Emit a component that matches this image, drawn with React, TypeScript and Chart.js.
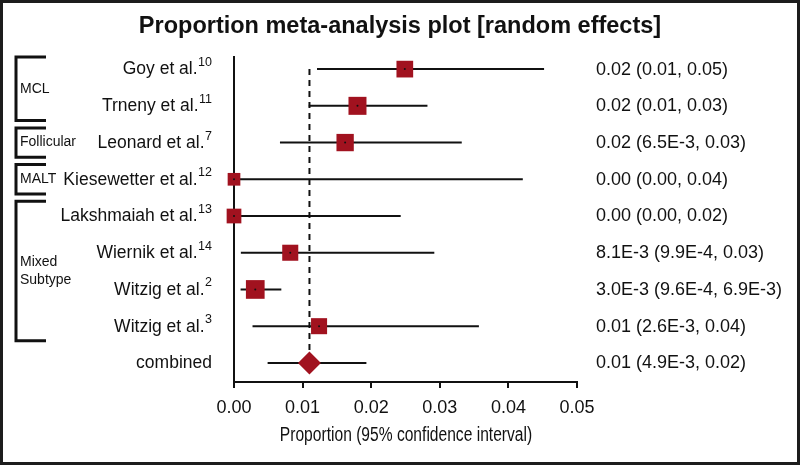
import React, { useEffect, useRef } from 'react';
import { Chart, registerables } from 'chart.js';

Chart.register(...registerables);

// ---------- data ----------
const studyNames = [
  'Goy et al.',
  'Trneny et al.',
  'Leonard et al.',
  'Kiesewetter et al.',
  'Lakshmaiah et al.',
  'Wiernik et al.',
  'Witzig et al.',
  'Witzig et al.',
];
const studyRefs = ['10', '11', '7', '12', '13', '14', '2', '3'];
const estimates = [0.0249, 0.018, 0.0162, 0.0, 0.0, 0.0082, 0.0031, 0.0124];
const lowerCI = [0.0121, 0.0109, 0.0067, 0.0, 0.0, 0.001, 0.00096, 0.0027];
const upperCI = [0.0452, 0.0282, 0.0332, 0.0421, 0.0243, 0.0292, 0.0069, 0.0357];
const studyWeights = [13.0, 15.1, 14.0, 7.5, 10.1, 12.0, 16.3, 12.0];

const combinedLabel = 'combined';
const pooledEstimate = 0.011;
const pooledLower = 0.0049;
const pooledUpper = 0.0193;

const ciLabels = [
  '0.02 (0.01, 0.05)',
  '0.02 (0.01, 0.03)',
  '0.02 (6.5E-3, 0.03)',
  '0.00 (0.00, 0.04)',
  '0.00 (0.00, 0.02)',
  '8.1E-3 (9.9E-4, 0.03)',
  '3.0E-3 (9.6E-4, 6.9E-3)',
  '0.01 (2.6E-3, 0.04)',
  '0.01 (4.9E-3, 0.02)',
];

const groupNames = [['MCL'], ['Follicular'], ['MALT'], ['Mixed', 'Subtype']];
const groupFirstRow = [0, 2, 3, 4];
const groupLastRow = [1, 2, 3, 7];

const xTickValues = [0, 0.01, 0.02, 0.03, 0.04, 0.05];

const chartTitle = 'Proportion meta-analysis plot [random effects]';
const xAxisTitle = 'Proportion (95% confidence interval)';

// ---------- styles ----------
const INK = '#111111';
const RED = '#a1121f';
const SANS = '"Liberation Sans", Arial, Helvetica, sans-serif';

export default function App() {
  const ref = useRef<HTMLCanvasElement | null>(null);

  useEffect(() => {
    document.body.style.margin = '0';
    const canvas = ref.current;
    if (!canvas) return;

    const nRows = studyNames.length + 1;
    const combinedRow = studyNames.length;
    const maxW = Math.max(...studyWeights);

    const ciDatasets = studyNames.map((_, i) => ({
      label: 'ci' + i,
      data: [
        { x: lowerCI[i], y: i },
        { x: upperCI[i], y: i },
      ],
      showLine: true,
      borderColor: INK,
      borderWidth: 2,
      pointRadius: 0,
      clip: false as any,
      order: 2,
    }));
    ciDatasets.push({
      label: 'ciPooled',
      data: [
        { x: pooledLower, y: combinedRow },
        { x: pooledUpper, y: combinedRow },
      ],
      showLine: true,
      borderColor: INK,
      borderWidth: 2,
      pointRadius: 0,
      clip: false as any,
      order: 2,
    });

    const overlay = {
      id: 'forestOverlay',
      afterDraw(chart: any) {
        const ctx = chart.ctx as CanvasRenderingContext2D;
        const ys = chart.scales.y;
        const xs = chart.scales.x;
        const area = chart.chartArea;
        ctx.save();

        // title
        ctx.fillStyle = INK;
        ctx.font = `bold 23.5px ${SANS}`;
        ctx.textAlign = 'center';
        ctx.textBaseline = 'middle';
        ctx.fillText(chartTitle, 400, 27);

        // x axis title (condensed face)
        const titleX = (xs.left + xs.right) / 2 + 0.5;
        ctx.save();
        ctx.translate(titleX, 436);
        ctx.scale(0.8, 1);
        ctx.font = `19.5px ${SANS}`;
        ctx.textAlign = 'center';
        ctx.textBaseline = 'middle';
        ctx.fillText(xAxisTitle, 0, 0);
        ctx.restore();

        // study labels
        const labelRight = 212;
        for (let i = 0; i < nRows; i++) {
          const y = ys.getPixelForValue(i);
          const name = i < studyNames.length ? studyNames[i] : combinedLabel;
          const sup = i < studyRefs.length ? studyRefs[i] : '';
          ctx.textAlign = 'right';
          ctx.textBaseline = 'middle';
          let supW = 0;
          if (sup) {
            ctx.font = `12.5px ${SANS}`;
            supW = ctx.measureText(sup).width + 0.5;
            ctx.fillText(sup, labelRight, y - 6.5);
          }
          ctx.font = `17.5px ${SANS}`;
          ctx.fillText(name, labelRight - supW, y + 0.5);

          // right column
          ctx.textAlign = 'left';
          ctx.font = `18px ${SANS}`;
          ctx.fillText(ciLabels[i], 596, y + 0.5);
        }

        // group brackets
        ctx.strokeStyle = INK;
        ctx.lineWidth = 3;
        ctx.lineJoin = 'miter';
        for (let g = 0; g < groupNames.length; g++) {
          const top = Math.max(ys.getPixelForValue(groupFirstRow[g] - 0.4), area.top);
          const bottom = ys.getPixelForValue(groupLastRow[g] + 0.4);
          ctx.beginPath();
          ctx.moveTo(46, top);
          ctx.lineTo(16, top);
          ctx.lineTo(16, bottom);
          ctx.lineTo(46, bottom);
          ctx.stroke();
          const lines = groupNames[g];
          const mid = (top + bottom) / 2;
          ctx.font = `14px ${SANS}`;
          ctx.textAlign = 'left';
          ctx.textBaseline = 'middle';
          lines.forEach((t, k) => {
            ctx.fillText(t, 20, mid + (k - (lines.length - 1) / 2) * 18);
          });
        }

        // frame
        ctx.strokeStyle = '#1d1d1d';
        ctx.lineWidth = 3;
        ctx.strokeRect(1.5, 1.5, 797, 462);
        ctx.restore();
      },
    };

    const chart = new Chart(canvas, {
      type: 'scatter',
      data: {
        datasets: [
          {
            label: 'studies',
            data: estimates.map((v, i) => ({ x: v, y: i })),
            pointStyle: 'rect',
            pointRadius: studyWeights.map((w) => (18.7 * Math.sqrt(w / maxW)) / (2 * Math.SQRT1_2)),
            backgroundColor: RED,
            borderWidth: 0,
            clip: false as any,
            order: 0,
          },
          {
            label: 'centre',
            data: estimates.map((v, i) => ({ x: v, y: i })),
            pointStyle: 'circle',
            pointRadius: 1,
            backgroundColor: INK,
            borderWidth: 0,
            clip: false as any,
            order: -1,
          },
          {
            label: 'pooled',
            data: [{ x: pooledEstimate, y: combinedRow }],
            pointStyle: 'rectRot',
            pointRadius: 11.5,
            backgroundColor: RED,
            borderWidth: 0,
            clip: false as any,
            order: 0,
          },
          {
            label: 'pooledLine',
            data: [
              { x: pooledEstimate, y: 0 },
              { x: pooledEstimate, y: combinedRow },
            ],
            showLine: true,
            borderColor: INK,
            borderWidth: 2,
            borderDash: [6, 5],
            pointRadius: 0,
            clip: false as any,
            order: 3,
          },
          ...ciDatasets,
        ] as any,
      },
      options: {
        responsive: false,
        animation: false,
        events: [],
        layout: { padding: { left: 234, right: 223, top: 57, bottom: 0 } },
        plugins: {
          legend: { display: false },
          tooltip: { enabled: false },
          title: { display: false },
        },
        scales: {
          x: {
            type: 'linear',
            min: 0,
            max: 0.05,
            afterFit: (s: any) => {
              s.height = 83;
            },
            afterBuildTicks: (s: any) => {
              s.ticks = xTickValues.map((v) => ({ value: v }));
            },
            ticks: {
              font: { family: SANS, size: 18 },
              color: INK,
              padding: 9,
              autoSkip: false,
              maxRotation: 0,
              callback: (v: any) => Number(v).toFixed(2),
            },
            grid: {
              display: true,
              drawOnChartArea: false,
              drawTicks: true,
              tickLength: 6,
              color: INK,
              lineWidth: 2,
            },
            border: { display: true, color: INK, width: 2 },
            title: { display: false },
          },
          y: {
            type: 'linear',
            reverse: true,
            min: -0.33,
            max: 8.52,
            afterFit: (s: any) => {
              s.width = 0;
            },
            ticks: { display: false },
            grid: { display: false },
            border: { display: true, color: INK, width: 2 },
          },
        },
      } as any,
      plugins: [overlay],
    });

    return () => {
      chart.destroy();
    };
  }, []);

  return (
    <canvas
      ref={ref}
      width={800}
      height={465}
      style={{ display: 'block', width: 800, height: 465, background: '#ffffff' }}
    />
  );
}
